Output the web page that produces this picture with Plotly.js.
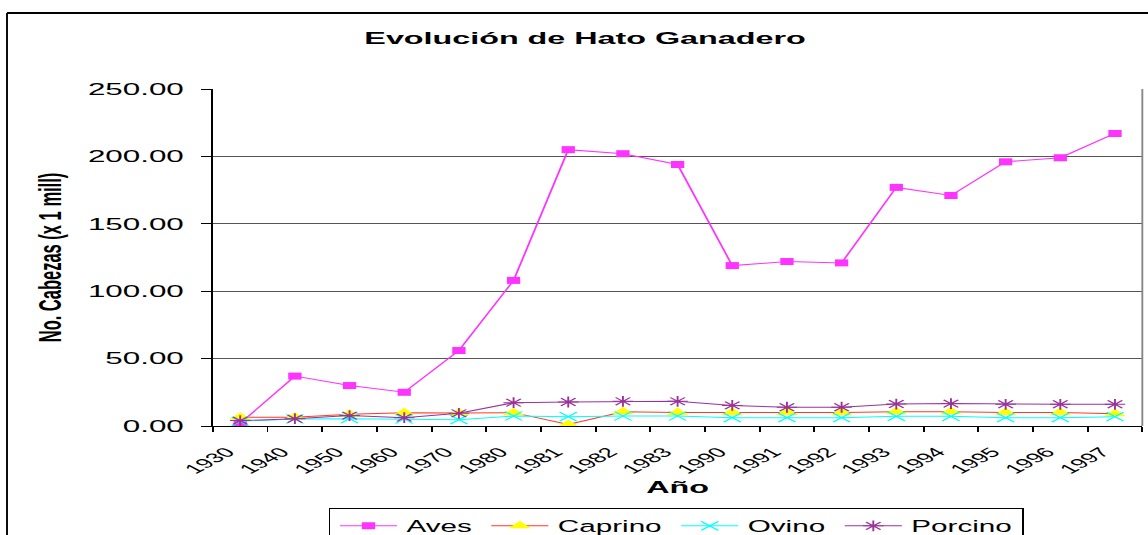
<!DOCTYPE html>
<html>
<head>
<meta charset="utf-8">
<script src="https://cdn.plot.ly/plotly-3.0.1.min.js"></script>
<style>
  html, body { margin: 0; padding: 0; background: #fff; overflow: hidden; }
  #wrap { position: absolute; left: 0; top: 0; width: 604px; height: 535px;
          transform: scaleX(1.9007); transform-origin: 0 0; }
  #chart { width: 604px; height: 535px; }
</style>
</head>
<body>
<div id="wrap"><div id="chart"></div></div>
<script>
// Data
const years = ['1930','1940','1950','1960','1970','1980','1981','1982','1983',
               '1990','1991','1992','1993','1994','1995','1996','1997'];
const aves    = [2, 37, 30, 25, 56, 108, 205, 202, 194, 119, 122, 121, 177, 171, 196, 199, 217];
const caprino = [6.5, 6.5, 8.7, 9.9, 9.6, 9.9, 1.2, 10.6, 10.1, 10, 10, 10, 10.6, 10.6, 10, 10, 9.1];
const ovino   = [3.5, 5.2, 5.4, 5.2, 4.7, 7.4, 6.9, 7.4, 7.4, 6.2, 6.2, 6.2, 7.2, 7.2, 6.2, 6.2, 6.9];
const porcino = [4, 5.4, 7.7, 6.2, 9.4, 17.3, 17.8, 18.3, 18.3, 15.3, 13.9, 13.9, 16.3, 16.6, 16.1, 16.1, 16.1];

const FONT = 'Arial, "Liberation Sans", sans-serif';

const traces = [
  { name: 'Aves', x: years, y: aves, type: 'scatter', mode: 'lines+markers', cliponaxis: false,
    line: { color: '#FF33FF', width: 1 },
    marker: { symbol: 'square', size: 7, color: '#FF33FF', line: { width: 0 } } },
  { name: 'Caprino', x: years, y: caprino, type: 'scatter', mode: 'lines+markers', cliponaxis: false,
    line: { color: '#FF3B1F', width: 1 },
    marker: { symbol: 'triangle-up', size: 10, color: '#FFFF00', line: { width: 0 } } },
  { name: 'Ovino', x: years, y: ovino, type: 'scatter', mode: 'lines+markers', cliponaxis: false,
    line: { color: '#00FFFF', width: 1 },
    marker: { symbol: 'x-thin-open', size: 9, color: '#00FFFF', line: { width: 1, color: '#00FFFF' } } },
  { name: 'Porcino', x: years, y: porcino, type: 'scatter', mode: 'lines+markers', cliponaxis: false,
    line: { color: '#993399', width: 1 },
    marker: { symbol: 'asterisk-open', size: 9, color: '#993399', line: { width: 1, color: '#993399' } } }
];

const layout = {
  width: 604, height: 535,
  margin: { l: 112, r: 3, t: 89, b: 109, autoexpand: false },
  paper_bgcolor: '#fff', plot_bgcolor: '#fff',
  font: { family: FONT, color: '#000' },
  showlegend: true,
  title: { text: 'Evolución de Hato Ganadero', font: { family: FONT, size: 17, color: '#000', weight: 'bold' },
           x: 0.5096, xref: 'container', xanchor: 'center', y: 0.928, yref: 'container', yanchor: 'middle' },
  xaxis: {
    type: 'category', automargin: false, range: [-0.5, 16.5], autorange: false,
    showline: true, linecolor: '#000', linewidth: 1,
    ticks: 'outside', ticklen: 5, tickcolor: '#000', tickwidth: 1, tickson: 'boundaries',
    tickangle: -45, tickfont: { family: FONT, size: 13.5, color: '#000' }, ticklabelshift: -7, ticklabelstandoff: 12,
    showgrid: false, zeroline: false,
    title: { text: 'Año', font: { family: FONT, size: 17, color: '#000', weight: 'bold' }, standoff: 5 }
  },
  yaxis: {
    range: [0, 250], autorange: false, tick0: 0, dtick: 50, tickformat: '.2f', automargin: false,
    showline: true, linecolor: '#000', linewidth: 1,
    ticks: 'outside', ticklen: 5, tickcolor: '#000', tickwidth: 1, ticklabelstandoff: 6,
    tickfont: { family: FONT, size: 16.5, color: '#000' },
    showgrid: true, gridcolor: '#555', gridwidth: 1, zeroline: false,
    title: { text: 'No. Cabezas (x 1 mill)', font: { family: FONT, size: 16.5, color: '#000', weight: 'bold' }, standoff: 9 }
  },
  legend: {
    orientation: 'h', x: 0.1245, xanchor: 'left', y: -0.244, yanchor: 'top',
    bordercolor: '#000', borderwidth: 1, bgcolor: '#fff',
    font: { family: FONT, size: 15.6, color: '#000' }
  },
  shapes: [
    { type: 'line', xref: 'paper', yref: 'paper', x0: 1, x1: 1, y0: 0, y1: 1, line: { color: '#888', width: 1 } },
    { type: 'line', xref: 'paper', yref: 'paper', x0: -0.2215, x1: 1.01, y0: 1.2255, y1: 1.2255, line: { color: '#000', width: 2 } },
    { type: 'line', xref: 'paper', yref: 'paper', x0: -0.2215, x1: -0.2215, y0: 1.2255, y1: -0.4, line: { color: '#000', width: 1 } }
  ]
};

Plotly.newPlot('chart', traces, layout, { displayModeBar: false, staticPlot: true });
</script>
</body>
</html>
